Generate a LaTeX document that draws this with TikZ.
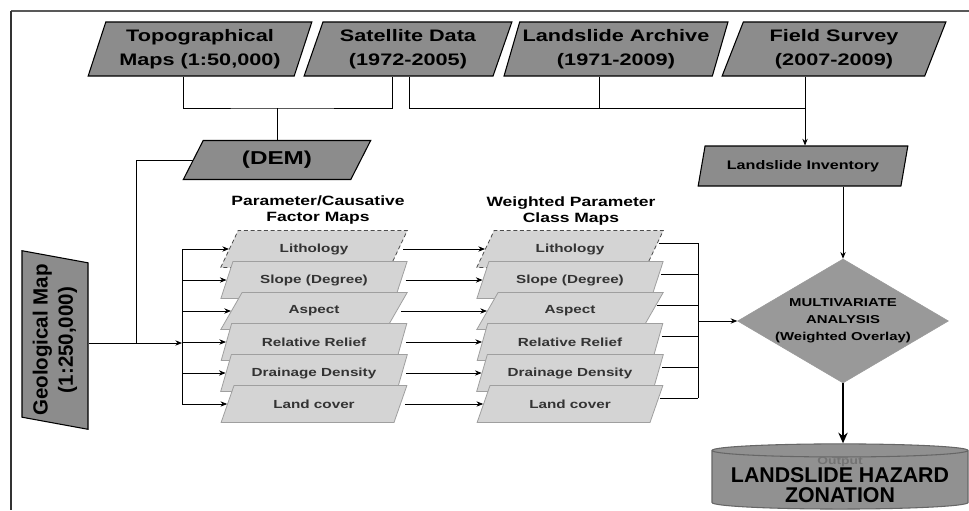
\documentclass[tikz,border=0pt]{standalone}
\usepackage{fontspec}
\setmainfont{Liberation Sans}
\newfontfamily\widefont{Liberation Sans}[FakeStretch=1.3]
\usetikzlibrary{arrows.meta,shapes.geometric}
\definecolor{darkbox}{gray}{0.55}
\definecolor{lightbox}{gray}{0.83}
\definecolor{diamondgray}{gray}{0.6}
\definecolor{cylgray}{gray}{0.57}

\begin{document}
\begin{tikzpicture}[x=0.75pt,y=-0.75pt]
  \tikzstyle{source}=[trapezium,trapezium left angle=70,trapezium right angle=110,trapezium stretches=true,draw,line width=0.8pt,fill=darkbox,minimum width=168pt,minimum height=40.5pt,inner sep=1pt,align=center,font=\widefont\bfseries\fontsize{12.5}{18}\selectfont]
  \tikzstyle{layer}=[trapezium,trapezium left angle=59,trapezium right angle=121,trapezium stretches=true,draw=gray!75,line width=0.6pt,fill=lightbox,minimum width=140pt,minimum height=27.75pt,inner sep=1pt,text=black!80,font=\widefont\bfseries\fontsize{8.8}{10}\selectfont]
  \tikzstyle{title}=[align=center,font=\widefont\bfseries\fontsize{10.1}{12}\selectfont]
  \tikzstyle{link}=[draw,line width=0.6pt]
  \tikzstyle{arrow}=[link,-{Stealth[length=5pt,width=4pt]}]

  \useasboundingbox (0,0) rectangle (969,510);
  \draw[gray!70!black,line width=1.5pt] (969,11) -- (11,11);
  \draw[black!80,line width=1.2pt] (11,11) -- (11,510);

  \node [source] (topo) at (200,49) {Topographical\\Maps (1:50,000)};
  \node [source,minimum width=156pt] (sat) at (408,49) {Satellite Data\\(1972-2005)};
  \node [source] (arch) at (616,49) {Landslide Archive\\(1971-2009)};
  \node [source] (field) at (834,49) {Field Survey\\(2007-2009)};
  \node [source,trapezium left angle=64,trapezium right angle=116,minimum width=141pt,minimum height=29.25pt,font=\widefont\bfseries\fontsize{14}{16}\selectfont] (dem) at (277,160) {(DEM)};
  \node [source,trapezium left angle=69,trapezium right angle=111,minimum width=157.5pt,minimum height=30pt,font=\widefont\bfseries\fontsize{9.3}{11}\selectfont] (inv) at (803,166) {Landslide Inventory};
  \node [source,rotate=90,trapezium left angle=75.6,trapezium right angle=104.4,minimum width=134pt,minimum height=49.5pt,font=\bfseries\fontsize{15.4}{19}\selectfont] (geo) at (55,340) {Geological Map\\(1:250,000)};

  \node [title] (ptitle) at (318,210) {Parameter/Causative\\Factor Maps};
  \node [title] (wtitle) at (571,211) {Weighted Parameter\\Class Maps};

  \node [layer,draw=black!70,densely dashed] (pA1) at (314,249) {Lithology};
  \node [layer,draw=black!70,densely dashed] (pB1) at (570,249) {Lithology};
  \foreach \name [count=\i from 2] in {Slope (Degree),Aspect,Relative Relief,Drainage Density,Land cover} {
    \node [layer] (pA\i) at (314,{218+31*\i}) {\name};
    \node [layer] (pB\i) at (570,{218+31*\i}) {\name};
  }

  \node [diamond,fill=diamondgray,draw=diamondgray,aspect=1.7,minimum width=156.75pt,minimum height=91.5pt,inner sep=0pt,align=center,font=\widefont\bfseries\fontsize{8.6}{12.75}\selectfont] (mva) at (843,321) {MULTIVARIATE\\ANALYSIS\\(Weighted Overlay)};
  \node [cylinder,shape border rotate=90,aspect=0.06,draw=black!60,line width=0.8pt,fill=cylgray,minimum width=192pt,minimum height=46pt,inner sep=0pt,align=center,font=\bfseries\fontsize{16}{15}\selectfont] (out) at (840,480) {{\widefont\fontsize{8}{9}\selectfont\color{black!55}Output}\\[-2pt]LANDSLIDE HAZARD\\ZONATION};

  \coordinate (busL) at (182,343);
  \coordinate (junc) at (136,343);
  \coordinate (busR) at (698,321);
  \path (0,108) coordinate (rowY);
  \coordinate (topoOut) at ([xshift=-12.75pt]topo.south);
  \coordinate (satOutA) at ([xshift=-12pt]sat.south);
  \coordinate (satOutB) at ([xshift=0.75pt]sat.south);
  \coordinate (archOut) at ([xshift=-12.75pt]arch.south);
  \coordinate (fieldOut) at ([xshift=-21.75pt]field.south);

  \draw [link] (topoOut) |- (dem.north |- rowY) -| (satOutA);
  \draw [link] (dem.north |- rowY) -- (dem.north);
  \draw [link] (satOutB) |- (fieldOut |- rowY);
  \draw [link] (archOut) -- (archOut |- rowY);
  \draw [arrow] (fieldOut) -- (fieldOut |- inv.north);
  \draw [arrow] (inv.south -| mva.north) -- (mva.north);

  \draw [link] (dem.west) -| (junc);
  \draw [arrow] (geo.south |- busL) -- (busL);
  \draw [link] (busL |- pA1.west) -- (busL |- pA6.west);
  \foreach \i in {1,...,6} {
    \draw [arrow] (busL |- pA\i.west) -- (pA\i.west);
    \draw [arrow] ([xshift=3pt]pA\i.east) -- (pB\i.west);
    \path ([xshift=2.7pt,yshift=4.5pt]pB\i.east) coordinate (rb\i);
    \draw [link] (rb\i) -- (rb\i -| busR);
  }
  \draw [link] (rb1 -| busR) -- (rb6 -| busR);
  \draw [arrow] (busR) -- (mva.west);
  \draw [line width=1.9pt,-{Stealth[length=8pt,width=7pt]}] (mva.south) -- (mva.south |- out.north);
\end{tikzpicture}
\end{document}
